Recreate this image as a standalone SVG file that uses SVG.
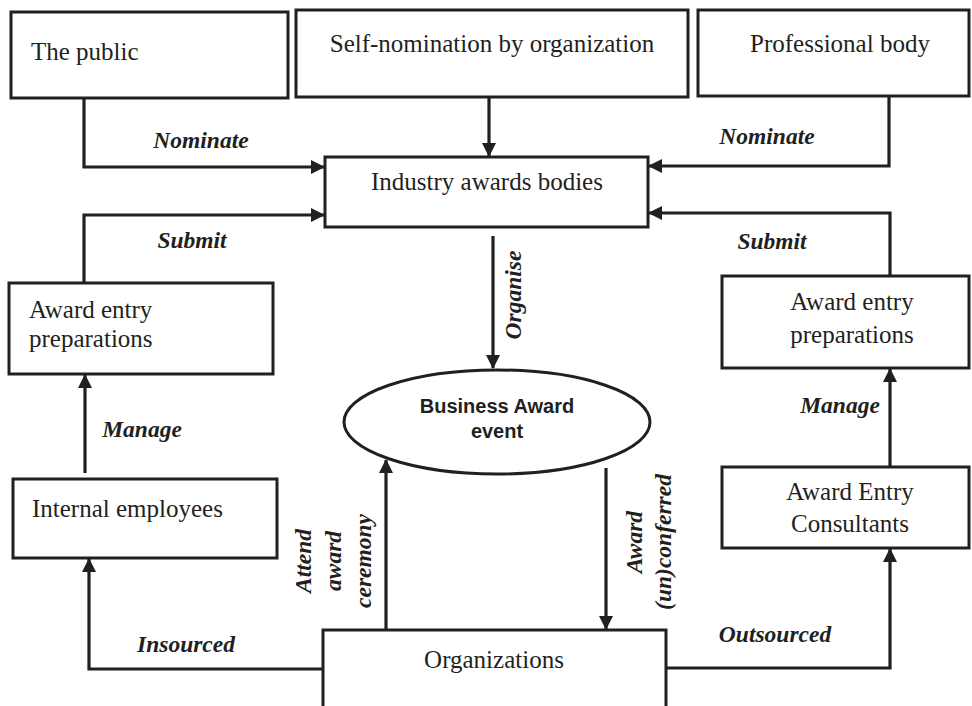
<svg xmlns="http://www.w3.org/2000/svg" width="972" height="706" viewBox="0 0 972 706">
<style>
.box{fill:#fff;stroke:#231f20;stroke-width:3}
.t{font-family:"Liberation Serif","Times New Roman",serif;font-size:25px;fill:#231f20}
.l{font-family:"Liberation Serif","Times New Roman",serif;font-size:23.5px;font-weight:bold;font-style:italic;fill:#231f20}
.s{font-family:"Liberation Sans",Arial,sans-serif;font-size:20px;font-weight:bold;fill:#231f20}
.c{fill:none;stroke:#231f20;stroke-width:3.2;marker-end:url(#ah)}
</style>
<defs>
<marker id="ah" markerUnits="userSpaceOnUse" markerWidth="14" markerHeight="14" viewBox="0 0 14 14" refX="13" refY="7" orient="auto">
<path d="M0,0 L14,7 L0,14 Z" fill="#231f20"/>
</marker>
</defs>
<rect width="972" height="706" fill="#fff"/>
<g id="connectors">
<path class="c" d="M84,98 V167 H324"/>
<path class="c" d="M489,97 V156"/>
<path class="c" d="M889,96 V166 H649"/>
<path class="c" d="M84,282 V215 H324"/>
<path class="c" d="M890,275 V213 H649"/>
<path class="c" d="M493,236 V368"/>
<path class="c" d="M85,473 V375"/>
<path class="c" d="M890,466 V369"/>
<path class="c" d="M323,669 H89 V559"/>
<path class="c" d="M666,668 H890 V549"/>
<path class="c" d="M386,629 V460"/>
<path class="c" d="M606,468 V629"/>
</g>
<g id="labels">
<text class="l" x="201" y="148" text-anchor="middle">Nominate</text>
<text class="l" x="767" y="144" text-anchor="middle">Nominate</text>
<text class="l" x="192" y="248" text-anchor="middle">Submit</text>
<text class="l" x="772" y="249" text-anchor="middle">Submit</text>
<text class="l" x="142" y="437" text-anchor="middle">Manage</text>
<text class="l" x="840" y="413" text-anchor="middle">Manage</text>
<text class="l" x="186" y="652" text-anchor="middle">Insourced</text>
<text class="l" x="775" y="642" text-anchor="middle">Outsourced</text>
<text class="l" transform="translate(521,295) rotate(-90)" text-anchor="middle">Organise</text>
<g transform="translate(311,561) rotate(-90)">
<text class="l" x="0" y="0" text-anchor="middle">Attend</text>
<text class="l" x="0" y="30" text-anchor="middle">award</text>
<text class="l" x="0" y="60" text-anchor="middle">ceremony</text>
</g>
<g transform="translate(642,542) rotate(-90)">
<text class="l" x="0" y="0" text-anchor="middle">Award</text>
<text class="l" x="0" y="29" text-anchor="middle">(un)conferred</text>
</g>
</g>
<g id="public">
<rect class="box" x="11" y="12" width="277" height="86"/>
<text class="t" x="31" y="60">The public</text>
</g>
<g id="self-nomination">
<rect class="box" x="296" y="10" width="392" height="87"/>
<text class="t" x="492" y="52" text-anchor="middle">Self-nomination by organization</text>
</g>
<g id="professional-body">
<rect class="box" x="698" y="10" width="271" height="86"/>
<text class="t" x="840" y="52" text-anchor="middle">Professional body</text>
</g>
<g id="industry-awards-bodies">
<rect class="box" x="325" y="157" width="323" height="70"/>
<text class="t" x="487" y="190" text-anchor="middle">Industry awards bodies</text>
</g>
<g id="award-entry-left">
<rect class="box" x="9" y="283" width="264" height="91"/>
<text class="t" x="29" y="318">Award entry</text>
<text class="t" x="29" y="347">preparations</text>
</g>
<g id="award-entry-right">
<rect class="box" x="722" y="276" width="247" height="92"/>
<text class="t" x="852" y="310" text-anchor="middle">Award entry</text>
<text class="t" x="852" y="343" text-anchor="middle">preparations</text>
</g>
<g id="business-award-event">
<ellipse class="box" cx="497" cy="422" rx="153" ry="52"/>
<text class="s" x="497" y="413" text-anchor="middle">Business Award</text>
<text class="s" x="497" y="438" text-anchor="middle">event</text>
</g>
<g id="internal-employees">
<rect class="box" x="13" y="479" width="264" height="79"/>
<text class="t" x="32" y="517">Internal employees</text>
</g>
<g id="consultants">
<rect class="box" x="722" y="467" width="247" height="81"/>
<text class="t" x="850" y="500" text-anchor="middle">Award Entry</text>
<text class="t" x="850" y="532" text-anchor="middle">Consultants</text>
</g>
<g id="organizations">
<rect class="box" x="323" y="630" width="343" height="90"/>
<text class="t" x="494" y="668" text-anchor="middle">Organizations</text>
</g>
</svg>
